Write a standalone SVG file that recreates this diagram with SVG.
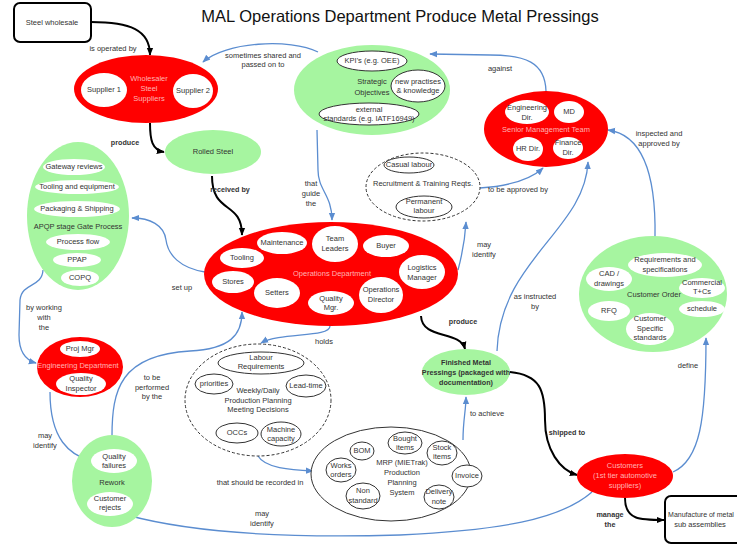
<svg xmlns="http://www.w3.org/2000/svg" width="737" height="544" viewBox="0 0 737 544">
<defs>
<marker id="ab" viewBox="0 0 10 10" refX="9" refY="5" markerWidth="8" markerHeight="8" markerUnits="userSpaceOnUse" orient="auto"><path d="M0,1 L10,5 L0,9 z" fill="#5b8dd0"/></marker>
<marker id="ak" viewBox="0 0 10 10" refX="9" refY="5" markerWidth="8" markerHeight="8" markerUnits="userSpaceOnUse" orient="auto"><path d="M0,1 L10,5 L0,9 z" fill="#000"/></marker>
</defs>
<style>
text{font-family:"Liberation Sans",Arial,sans-serif;font-size:7.5px;fill:#333;text-anchor:middle;dominant-baseline:middle}
.title{font-size:16.5px;fill:#111}
.red{fill:#ff0000;stroke:none}
.grn{fill:#a6f5a0;stroke:none}
.wht{fill:#fff;stroke:none}
.ow{fill:#fff;stroke:#333;stroke-width:1}
.dash{fill:#fff;stroke:#333;stroke-width:1;stroke-dasharray:3,2}
.pink{fill:#ffb3b3}
.b{font-weight:bold;font-size:7.2px}
.bl{fill:none;stroke:#5b8dd0;stroke-width:1.3;marker-end:url(#ab)}
.bk{fill:none;stroke:#000;stroke-width:2;marker-end:url(#ak)}
</style>
<rect width="737" height="544" fill="#fff"/>
<text class="title" x="400" y="18">MAL Operations Department Produce Metal Pressings</text>

<g id="connectors">
<path class="bk" d="M91,22 C130,22 150,30 150,55"/>
<path class="bk" d="M150,123 C150,140 152,150 164,152"/>
<path class="bk" d="M212,176 C212,215 242,200 242,235"/>
<path class="bl" d="M318,52 C290,38 225,42 203,62"/>
<path class="bl" d="M546,91 C545,62 525,55 490,55 L430,54"/>
<path class="bl" d="M317,130 L318,170 C318,190 332,195 332,220"/>
<path class="bl" d="M480,188 C510,186 530,180 543,168"/>
<path class="bl" d="M458,270 C462,255 465,240 466,222"/>
<path class="bl" d="M205,272 C180,268 168,255 166,240 C164,225 150,218 132,218"/>
<path class="bl" d="M43,270 C42,288 22,282 20,300 L19,335 C19,350 25,360 36,363"/>
<path class="bl" d="M50,392 C50,440 70,455 91,461"/>
<path class="bl" d="M112,436 C112,390 120,355 190,351 C230,349 242,335 242,312"/>
<path class="bl" d="M330,326 C330,338 280,332 261,343"/>
<path class="bl" d="M258,456 C265,468 290,470 313,471"/>
<path class="bk" d="M421,316 C422,340 460,330 465,349"/>
<path class="bl" d="M463,440 C463,420 466,410 466,397"/>
<path class="bl" d="M497,351 C500,260 585,230 588,162"/>
<path class="bk" d="M510,372 C540,375 545,390 545,420 C545,450 560,470 577,475"/>
<path class="bl" d="M673,472 C700,460 706,420 706,338"/>
<path class="bl" d="M655,237 C656,180 645,135 608,130"/>
<path class="bk" d="M625,498 C625,520 640,520 664,520"/>
<path class="bl" d="M592,492 C560,520 500,530 400,535 C300,538 200,535 127,515"/>
<text x="113" y="49">is operated by</text>
<text class="b" x="125" y="143">produce</text>
<text x="263" y="56">sometimes shared and</text>
<text x="263" y="65">passed on to</text>
<text x="500" y="69">against</text>
<text class="b" x="230" y="190">received by</text>
<text x="311" y="184">that</text>
<text x="311" y="194">guide</text>
<text x="311" y="204">the</text>
<text x="518" y="190">to be approved by</text>
<text x="484" y="245">may</text>
<text x="484" y="255">identify</text>
<text x="659" y="134">inspected and</text>
<text x="659" y="144">approved by</text>
<text x="182" y="288">set up</text>
<text x="44" y="308">by working</text>
<text x="44" y="318">with</text>
<text x="44" y="328">the</text>
<text x="152" y="378">to be</text>
<text x="152" y="388">performed</text>
<text x="152" y="397">by the</text>
<text x="45" y="436">may</text>
<text x="45" y="446">identify</text>
<text x="324" y="342">holds</text>
<text class="b" x="463" y="322">produce</text>
<text x="535" y="297">as instructed</text>
<text x="535" y="307">by</text>
<text x="487" y="414">to achieve</text>
<text class="b" x="567" y="433">shipped to</text>
<text x="688" y="366">define</text>
<text x="260" y="483">that should be recorded in</text>
<text x="262" y="514">may</text>
<text x="262" y="524">identify</text>
<text class="b" x="610" y="515">manage</text>
<text class="b" x="610" y="525">the</text>
</g>

<g id="steel-wholesale">
<rect x="14" y="3" width="77" height="39" rx="6" fill="#fff" stroke="#000" stroke-width="2"/>
<text x="52" y="23">Steel wholesale</text>
</g>

<g id="wholesaler">
<ellipse class="red" cx="146" cy="89" rx="72" ry="34"/>
<ellipse class="wht" cx="104" cy="90" rx="23" ry="17"/>
<ellipse class="wht" cx="193" cy="91" rx="20" ry="17"/>
<text x="104" y="90">Supplier 1</text>
<text x="193" y="91">Supplier 2</text>
<text class="pink" x="149" y="79">Wholesaler</text>
<text class="pink" x="149" y="89">Steel</text>
<text class="pink" x="149" y="99">Suppliers</text>
</g>

<g id="rolled-steel">
<ellipse class="grn" cx="213" cy="152" rx="48" ry="22"/>
<text x="213" y="152">Rolled Steel</text>
</g>

<g id="strategic">
<ellipse class="grn" cx="372" cy="90" rx="78" ry="45"/>
<ellipse class="ow" cx="372" cy="61" rx="35" ry="10"/>
<text x="372" y="61">KPI's (e.g. OEE)</text>
<ellipse class="ow" cx="418" cy="86" rx="27" ry="16"/>
<text x="418" y="82">new practises</text>
<text x="418" y="91">&amp; knowledge</text>
<ellipse class="ow" cx="369" cy="114" rx="50" ry="11"/>
<text x="369" y="110">external</text>
<text x="369" y="119">standards (e.g. IATF16949)</text>
<text x="372" y="82">Strategic</text>
<text x="372" y="93">Objectives</text>
</g>

<g id="senior-management">
<ellipse class="red" cx="546" cy="129" rx="62" ry="38"/>
<ellipse class="wht" cx="527" cy="112" rx="22" ry="12"/>
<text x="527" y="108">Engineering</text>
<text x="527" y="118">Dir.</text>
<ellipse class="wht" cx="569" cy="112" rx="15" ry="11"/>
<text x="569" y="112">MD</text>
<ellipse class="wht" cx="528" cy="149" rx="15" ry="12"/>
<text x="528" y="149">HR Dir.</text>
<ellipse class="wht" cx="568" cy="148" rx="15" ry="11"/>
<text x="568" y="143">Finance</text>
<text x="568" y="153">Dir.</text>
<text class="pink" x="546" y="130">Senior Management Team</text>
</g>

<g id="recruitment">
<ellipse class="dash" cx="423" cy="187" rx="57" ry="34"/>
<ellipse class="ow" cx="409" cy="165" rx="25" ry="8"/>
<text x="409" y="165">Casual labour</text>
<text x="423" y="184">Recruitment &amp; Training Reqts.</text>
<ellipse class="ow" cx="424" cy="207" rx="28" ry="11"/>
<text x="424" y="202">Permanent</text>
<text x="424" y="211">labour</text>
</g>

<g id="apqp">
<ellipse class="grn" cx="78" cy="216" rx="51" ry="74"/>
<ellipse class="wht" cx="74" cy="167" rx="31" ry="8"/>
<text x="74" y="167">Gateway reviews</text>
<ellipse class="wht" cx="77" cy="187" rx="42" ry="7"/>
<text x="77" y="187">Tooling and equipment</text>
<ellipse class="wht" cx="77" cy="209" rx="43" ry="8"/>
<text x="77" y="209">Packaging &amp; Shipping</text>
<text x="78" y="227">APQP stage Gate Process</text>
<ellipse class="wht" cx="78" cy="242" rx="32" ry="8"/>
<text x="78" y="242">Process flow</text>
<ellipse class="wht" cx="77" cy="260" rx="24" ry="7"/>
<text x="77" y="260">PPAP</text>
<ellipse class="wht" cx="80" cy="278" rx="19" ry="8"/>
<text x="80" y="278">COPQ</text>
</g>

<g id="operations">
<ellipse class="red" cx="331" cy="274" rx="127" ry="52"/>
<ellipse class="wht" cx="282" cy="243" rx="25" ry="11"/>
<text x="282" y="243">Maintenance</text>
<ellipse class="wht" cx="335" cy="244" rx="23" ry="18"/>
<text x="335" y="239">Team</text>
<text x="335" y="249">Leaders</text>
<ellipse class="wht" cx="386" cy="246" rx="23" ry="11"/>
<text x="386" y="246">Buyer</text>
<ellipse class="wht" cx="242" cy="258" rx="22" ry="10"/>
<text x="242" y="258">Tooling</text>
<ellipse class="wht" cx="422" cy="272" rx="23" ry="17"/>
<text x="422" y="268">Logistics</text>
<text x="422" y="278">Manager</text>
<ellipse class="wht" cx="233" cy="282" rx="21" ry="11"/>
<text x="233" y="282">Stores</text>
<ellipse class="wht" cx="277" cy="293" rx="23" ry="15"/>
<text x="277" y="293">Setters</text>
<ellipse class="wht" cx="331" cy="303" rx="23" ry="12"/>
<text x="331" y="299">Quality</text>
<text x="331" y="308">Mgr.</text>
<ellipse class="wht" cx="381" cy="295" rx="22" ry="18"/>
<text x="381" y="290">Operations</text>
<text x="381" y="300">Director</text>
<text class="pink" x="332" y="274">Operations Department</text>
</g>

<g id="engineering">
<ellipse class="red" cx="80" cy="367" rx="43" ry="30"/>
<ellipse class="wht" cx="80" cy="349" rx="20" ry="8"/>
<text x="80" y="349">Proj Mgr</text>
<ellipse class="wht" cx="81" cy="384" rx="25" ry="11"/>
<text x="81" y="379">Quality</text>
<text x="81" y="389">Inspector</text>
<text class="pink" x="78" y="366">Engineering Department</text>
</g>

<g id="rework">
<ellipse class="grn" cx="112" cy="481" rx="40" ry="46"/>
<ellipse class="wht" cx="114" cy="461" rx="23" ry="12"/>
<text x="114" y="457">Quality</text>
<text x="114" y="466">failures</text>
<text x="112" y="483">Rework</text>
<ellipse class="wht" cx="110" cy="504" rx="23" ry="12"/>
<text x="110" y="499">Customer</text>
<text x="110" y="508">rejects</text>
</g>

<g id="production-planning">
<ellipse class="dash" cx="258" cy="400" rx="73" ry="56"/>
<ellipse class="ow" cx="261" cy="363" rx="43" ry="11"/>
<text x="261" y="358">Labour</text>
<text x="261" y="367">Requirements</text>
<ellipse class="ow" cx="214" cy="384" rx="19" ry="10"/>
<text x="214" y="384">priorities</text>
<ellipse class="ow" cx="306" cy="386" rx="20" ry="11"/>
<text x="306" y="386">Lead-time</text>
<text x="258" y="391">Weekly/Daily</text>
<text x="258" y="401">Production Planning</text>
<text x="258" y="410">Meeting Decisions</text>
<ellipse class="ow" cx="237" cy="433" rx="21" ry="10"/>
<text x="237" y="433">OCCs</text>
<ellipse class="ow" cx="281" cy="434" rx="20" ry="12"/>
<text x="281" y="430">Machine</text>
<text x="281" y="439">capacity</text>
</g>

<g id="mrp">
<ellipse class="ow" cx="391" cy="474" rx="80" ry="47"/>
<ellipse class="ow" cx="362" cy="451" rx="12" ry="9"/>
<text x="362" y="451">BOM</text>
<ellipse class="ow" cx="405" cy="443" rx="17" ry="11"/>
<text x="405" y="439">Bought</text>
<text x="405" y="448">items</text>
<ellipse class="ow" cx="442" cy="453" rx="15" ry="12"/>
<text x="442" y="448">Stock</text>
<text x="442" y="457">items</text>
<ellipse class="ow" cx="341" cy="470" rx="15" ry="12"/>
<text x="341" y="466">Works</text>
<text x="341" y="475">orders</text>
<ellipse class="ow" cx="467" cy="476" rx="15" ry="11"/>
<text x="467" y="476">Invoice</text>
<ellipse class="ow" cx="363" cy="496" rx="17" ry="13"/>
<text x="363" y="491">Non</text>
<text x="363" y="501">standard</text>
<ellipse class="ow" cx="439" cy="497" rx="15" ry="12"/>
<text x="439" y="492">Delivery</text>
<text x="439" y="502">note</text>
<text x="402" y="463">MRP (MIETrak)</text>
<text x="402" y="473">Production</text>
<text x="402" y="483">Planning</text>
<text x="402" y="493">System</text>
</g>

<g id="finished">
<ellipse class="grn" cx="466" cy="372" rx="44" ry="23"/>
<text class="b" x="466" y="363">Finished Metal</text>
<text class="b" x="466" y="373">Pressings (packaged with</text>
<text class="b" x="466" y="383">documentation)</text>
</g>

<g id="customer-order">
<ellipse class="grn" cx="653" cy="294" rx="74" ry="58"/>
<ellipse class="wht" cx="665" cy="265" rx="37" ry="12"/>
<text x="665" y="260">Requirements and</text>
<text x="665" y="270">specifications</text>
<ellipse class="wht" cx="609" cy="279" rx="23" ry="12"/>
<text x="609" y="274">CAD /</text>
<text x="609" y="284">drawings</text>
<ellipse class="wht" cx="702" cy="288" rx="23" ry="10"/>
<text x="702" y="283">Commercial</text>
<text x="702" y="292">T+Cs</text>
<text x="654" y="295">Customer Order</text>
<ellipse class="wht" cx="609" cy="311" rx="21" ry="10"/>
<text x="609" y="311">RFQ</text>
<ellipse class="wht" cx="702" cy="309" rx="23" ry="8"/>
<text x="702" y="309">schedule</text>
<ellipse class="wht" cx="650" cy="329" rx="24" ry="16"/>
<text x="650" y="319">Customer</text>
<text x="650" y="329">Specific</text>
<text x="650" y="338">standards</text>
</g>

<g id="customers">
<ellipse class="red" cx="625" cy="476" rx="48" ry="22"/>
<text class="pink" x="625" y="466">Customers</text>
<text class="pink" x="625" y="476">(1st tier automotive</text>
<text class="pink" x="625" y="486">suppliers)</text>
</g>

<g id="manufacture">
<rect x="665" y="496" width="80" height="47" rx="6" fill="#fff" stroke="#000" stroke-width="2"/>
<text x="701" y="515" style="font-size:7px">Manufacture of metal</text>
<text x="700" y="525">sub assemblies</text>
</g>
</svg>
